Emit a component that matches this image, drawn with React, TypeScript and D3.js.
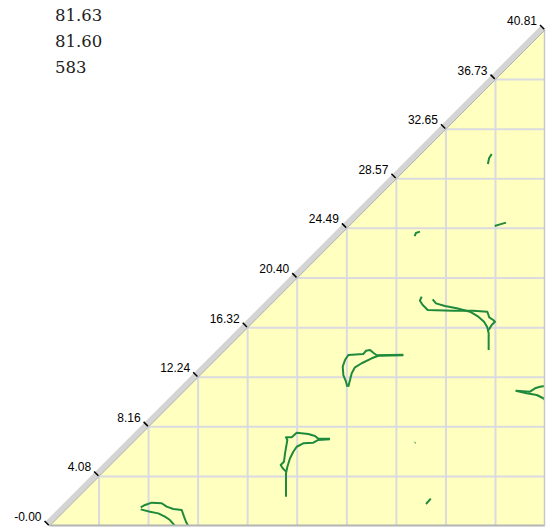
import React from "react";
import * as d3 from "d3";

const W = 546;
const H = 527;
const MAX = 40.81;

const tickValues = [0, 4.08, 8.16, 12.24, 16.32, 20.4, 24.49, 28.57, 32.65, 36.73, 40.81];
const tickLabels = ["-0.00", "4.08", "8.16", "12.24", "16.32", "20.40", "24.49", "28.57", "32.65", "36.73", "40.81"];
const infoLines = ["81.63", "81.60", "583"];

type P = [number, number];
const contourA: P[] = [[36.42, 30.61], [36.2, 30.25], [36.11, 29.79]];
const contourB: P[] = [[36.67, 24.68], [37.1, 24.82], [37.6, 24.96]];
const contourC: P[] = [[30.08, 23.86], [30.18, 24.11], [30.51, 24.22]];
const contourD1: P[] = [[30.65, 18.87], [30.51, 18.54], [30.74, 18.18], [31.15, 17.77], [33.26, 17.71], [34.9, 17.71], [36.06, 17.63], [36.22, 17.17], [36.55, 16.95], [36.69, 16.81], [36.42, 16.54], [36.17, 16.13]];
const contourD2: P[] = [[31.56, 18.65], [31.83, 18.32], [32.57, 18.1], [33.54, 17.91], [34.63, 17.63], [35.32, 17.22], [35.79, 16.81], [36.06, 16.35], [36.17, 15.86], [36.17, 14.48]];
const contourE1: P[] = [[29.14, 14.09], [26.95, 14.05], [26.67, 14.26], [26.4, 14.48], [26.07, 14.42], [25.84, 14.15], [24.61, 14.07], [24.34, 13.66], [24.15, 13.11], [24.2, 12.42], [24.42, 11.87], [24.53, 11.46]];
const contourE2: P[] = [[29.14, 14.05], [27.08, 14.01], [26.54, 13.8], [25.71, 13.39], [25.16, 13.06], [24.89, 12.56], [24.75, 12.01], [24.61, 11.46]];
const contourF1: P[] = [[23.1, 7.18], [22.14, 7.18], [21.87, 7.41], [21.31, 7.57], [20.36, 7.68], [19.95, 7.3], [19.48, 7.3], [19.59, 7.08], [19.4, 5.98], [19.31, 5.29], [19.04, 5.02], [19.21, 4.75], [19.48, 4.47]];
const contourF2: P[] = [[23.1, 7.13], [22.14, 7.08], [21.73, 6.85], [20.9, 6.8], [20.36, 6.52], [20.08, 6.11], [19.81, 5.57], [19.59, 4.88], [19.48, 4.34], [19.48, 2.41]];
const contourDot: P[] = [[30.08, 6.85], [30.14, 6.88]];
const contourG: P[] = [[31.01, 1.81], [31.4, 2.25]];
const contourH1: P[] = [[7.51, 1.54], [7.87, 1.73], [8.42, 1.92], [9.24, 1.87], [9.65, 1.59], [10.2, 1.4], [10.89, 1.32], [11.08, 0.77], [11.24, 0.35], [11.43, 0.0]];
const contourH2: P[] = [[7.51, 1.37], [8.28, 1.18], [8.96, 1.04], [9.51, 0.77], [9.92, 0.49], [10.34, 0.0]];
const contourI1: P[] = [[38.4, 11.13], [39.57, 11.05], [39.99, 11.33], [40.4, 11.46], [40.81, 11.52]];
const contourI2: P[] = [[38.4, 11.13], [39.3, 10.92], [40.13, 10.78], [40.67, 10.51], [40.81, 10.37]];

const contours = [contourA, contourB, contourC, contourD1, contourD2, contourE1, contourE2, contourF1, contourF2, contourDot, contourG, contourH1, contourH2, contourI1, contourI2];

export default function App() {
  const x = d3.scaleLinear().domain([0, MAX]).range([49.5, 545]);
  const y = d3.scaleLinear().domain([0, MAX]).range([526, 30]);
  const line = d3.line<P>().x((d) => x(d[0])).y((d) => y(d[1]));
  const tri = `M${x(0)},${y(0)}L${x(MAX)},${y(MAX)}L${x(MAX)},${y(0)}Z`;
  const n = Math.SQRT1_2;
  const gridVals = tickValues.slice(1, -1);
  return (
    <svg width={W} height={H} style={{ position: "absolute", left: 0, top: 0 }}>
      <defs>
        <clipPath id="triClip">
          <path d={tri} />
        </clipPath>
      </defs>
      <path d={tri} fill="#ffffc0" />
      <g stroke="#dadae0" strokeWidth={2}>
        {gridVals.map((v, i) => (
          <g key={i}>
            <line x1={x(v)} x2={x(v)} y1={y(0)} y2={y(v)} />
            <line x1={x(v)} x2={x(MAX)} y1={y(v)} y2={y(v)} />
          </g>
        ))}
      </g>
      <g clipPath="url(#triClip)" fill="none" stroke="#1f8a3c" strokeWidth={2} strokeLinejoin="round">
        {contours.map((c, i) => (
          <path key={i} d={line(c) || ""} />
        ))}
      </g>
      <line x1={x(0)} x2={x(MAX)} y1={y(0) - 0.5} y2={y(0) - 0.5} stroke="#b4b4b4" strokeWidth={2} />
      <line x1={x(MAX) - 0.5} x2={x(MAX) - 0.5} y1={y(MAX)} y2={y(0)} stroke="#c8c8c8" strokeWidth={1.5} />
      <line
        x1={x(0) - 3 * n}
        y1={y(0) - 3 * n}
        x2={x(MAX) - 3 * n}
        y2={y(MAX) - 3 * n}
        stroke="#d4d4d4"
        strokeWidth={6}
      />
      <line x1={x(0)} y1={y(0)} x2={x(MAX)} y2={y(MAX)} stroke="#b0b0b0" strokeWidth={1} />
      {tickValues.map((v, i) => {
        const px = x(v);
        const py = y(v);
        const ox = px - 7 * n;
        const oy = py - 7 * n;
        return (
          <g key={i}>
            <line x1={px - 1 * n} y1={py - 1 * n} x2={ox} y2={oy} stroke="#000" strokeWidth={1.5} />
            <text x={ox - 3} y={oy} textAnchor="end" fontFamily="Liberation Sans, Arial, sans-serif" fontSize={12} fill="#000">
              {tickLabels[i]}
            </text>
          </g>
        );
      })}
      {infoLines.map((t, i) => (
        <text key={i} x={55} y={21 + i * 26} fontFamily="DejaVu Serif, serif" fontSize={16.5} fill="#222">
          {t}
        </text>
      ))}
    </svg>
  );
}
